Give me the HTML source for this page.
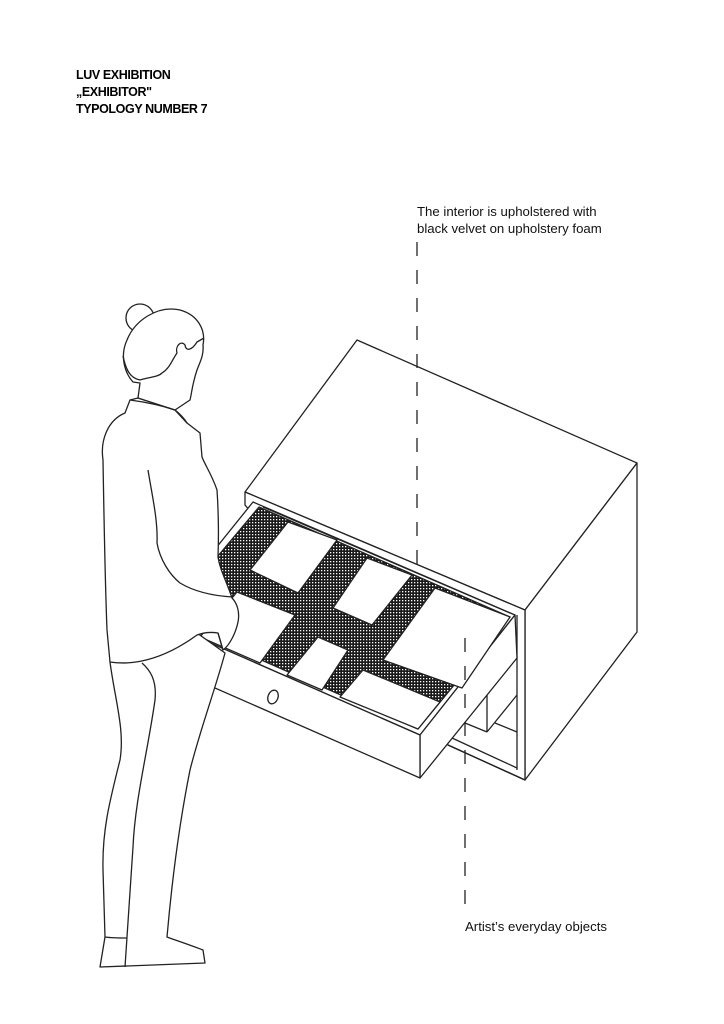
<!DOCTYPE html>
<html><head><meta charset="utf-8"><style>
body{margin:0;background:#fff}
svg{display:block}
</style></head><body>
<svg width="724" height="1024" viewBox="0 0 724 1024" xmlns="http://www.w3.org/2000/svg">
<defs>
<pattern id="v" width="3" height="3" patternUnits="userSpaceOnUse">
<rect width="3" height="3" fill="#1a1a1a"/><rect x="0" y="0" width="1.3" height="1.3" fill="#fff"/>
</pattern>
</defs>
<rect width="724" height="1024" fill="#fff"/>
<g font-family="Liberation Sans, sans-serif" font-weight="bold" font-size="12.5" letter-spacing="-0.4" fill="#000">
<text x="76" y="79">LUV EXHIBITION</text>
<text x="76" y="96">„EXHIBITOR"</text>
<text x="76" y="113">TYPOLOGY NUMBER 7</text>
</g>
<g font-family="Liberation Sans, sans-serif" font-size="13.2" fill="#111">
<text x="417" y="216">The interior is upholstered with</text>
<text x="417" y="233">black velvet on upholstery foam</text>
<text x="465" y="931">Artist’s everyday objects</text>
</g>
<g stroke="#222" stroke-width="1.3" fill="#fff" stroke-linejoin="round">
<polygon points="357,340 637,463 525,610 245,492"/>
<polygon points="637,463 637,632 525,780 525,610"/>
<polygon points="245,492 525,610 525,780 448,745 245,505" fill="#fff"/>
<line x1="517" y1="615" x2="517" y2="770"/>
<line x1="448" y1="745" x2="525" y2="780"/>
<line x1="452" y1="738" x2="517" y2="768"/>
<line x1="465" y1="723" x2="487" y2="732"/>
<line x1="487" y1="695" x2="487" y2="732"/>
<line x1="487" y1="732" x2="517" y2="695"/>
<line x1="495" y1="723" x2="517" y2="732"/>
<line x1="417" y1="242" x2="417" y2="575" stroke-dasharray="14,14" fill="none"/>
<polygon points="253,502 515,615 420,735 158,620"/>
<polygon points="420,735 515,615 517,658 420,778"/>
<polygon points="158,620 420,735 420,778 158,663"/>
<polygon points="259,507 510,617 418,729 166,618" fill="url(#v)"/>
<line x1="263" y1="507" x2="510" y2="613"/>
<polygon points="288,522 337,540 298,593 250,570"/>
<polygon points="367,558 412,575 372,625 333,608"/>
<polygon points="435,588 510,617 462,688 383,660"/>
<polygon points="318,637 348,650 322,690 287,675"/>
<polygon points="363,670 440,702 418,729 340,697"/>
<polygon points="237,592 295,615 260,663 200,637"/>
<ellipse cx="273" cy="697" rx="5" ry="7" transform="rotate(20 273 697)"/>
<line x1="465" y1="638" x2="465" y2="912" stroke-dasharray="14,14" fill="none"/>
<path d="M110,662 C115,700 125,730 120,760 C110,800 102,830 103,870 L105,937 L100,967 L205,963 L203,950 C190,945 175,940 167,937 C172,880 180,820 190,770 C200,730 215,690 225,653 L197,633 Z"/>
<path d="M142,663 C150,670 157,680 155,700 C148,750 135,800 133,847 L127,937 L125,967" fill="none"/>
<path d="M105,937 C112,938 120,938 127,938" fill="none"/>
<path d="M138,398 L130,400 L125,413 C108,420 100,440 103,460 C104,520 105,580 107,630 L110,662 C130,665 160,662 197,635 C205,632 212,632 218,633 L223,650 C230,645 236,632 238,622 C240,612 237,603 232,598 C226,580 220,570 218,557 C219,530 218,505 217,490 C212,475 205,465 202,457 L200,433 L187,423 L175,410 Z"/>
<path d="M148,470 C152,495 158,520 157,543 C160,560 170,575 180,583 C195,592 215,596 233,597" fill="none"/>
<path d="M218,633 L223,650" fill="none"/>
<ellipse cx="140" cy="318" rx="14" ry="14"/>
<path d="M133,382 C124,372 120,355 127,340 C135,320 158,305 180,310 C198,315 206,330 203,345 C204,355 200,362 197,370 C192,385 192,392 190,400 L175,410 L138,398 L140,383 Z"/>
<path d="M123,356 C126,370 130,378 140,380 C150,377 158,377 162,373 C170,368 172,360 177,353 C175,346 181,340 185,345 C186,352 192,350 197,342 L204,338" fill="none"/>
<path d="M130,400 C145,402 160,405 175,410 C180,414 184,418 187,423" fill="none"/>
</g>
</svg>
</body></html>
